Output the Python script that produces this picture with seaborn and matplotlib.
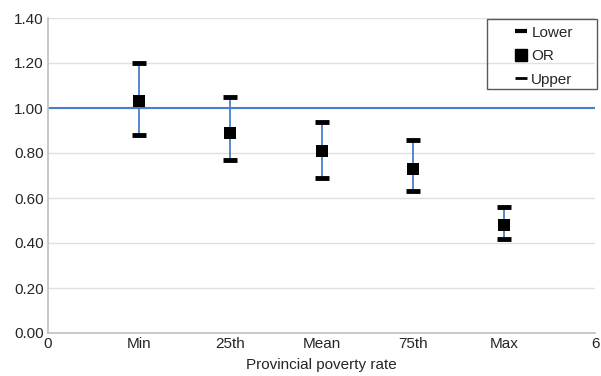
import numpy as np
import pandas as pd
import seaborn as sns
import matplotlib.pyplot as plt
from matplotlib.lines import Line2D
from matplotlib.patches import Rectangle

# значения
categories = ["Min", "25th", "Mean", "75th", "Max"]
positions = [1, 2, 3, 4, 5]
odds_ratio = [1.03, 0.89, 0.81, 0.73, 0.48]
lower = [0.88, 0.77, 0.69, 0.63, 0.42]
upper = [1.20, 1.05, 0.94, 0.86, 0.56]

df = pd.DataFrame({"pos": positions, "cat": categories, "OR": odds_ratio,
                   "Lower": lower, "Upper": upper})

sns.set_style("white")
plt.rcParams["font.family"] = ["Liberation Sans", "DejaVu Sans"]
fs = 11

fig = plt.figure(figsize=(6.01, 3.76), dpi=100)
ax = fig.add_axes([48 / 601, 1 - 333 / 376, (595 - 48) / 601, (333 - 18) / 376])

blue = "#4a7ec9"
ax.axhline(1.0, color=blue, lw=1.5, zorder=2)
ax.vlines(df["pos"], df["Lower"], df["Upper"], color=blue, lw=1.3, zorder=3)

cap = dict(marker="_", markersize=9.5, markeredgewidth=3.5, color="black",
           markeredgecolor="black", linestyle="", zorder=4)
sns.lineplot(data=df, x="pos", y="Lower", ax=ax, **cap)
sns.lineplot(data=df, x="pos", y="Upper", ax=ax, **cap)
sns.lineplot(data=df, x="pos", y="OR", ax=ax, marker="s", markersize=8.5,
             markeredgewidth=0, color="black", linestyle="", zorder=5)

ax.set_xlim(0, 6)
ax.set_ylim(0, 1.4)
ax.set_yticks(np.arange(0, 1.41, 0.2))
ax.set_yticklabels([f"{v:.2f}" for v in np.arange(0, 1.41, 0.2)], fontsize=fs)
ax.set_xticks(range(7))
ax.set_xticklabels(["0"] + categories + ["6"], fontsize=fs)
ax.tick_params(length=0, pad=3)
ax.yaxis.grid(True, color="#e0e0e0", lw=1)
ax.set_axisbelow(True)
for s in ["top", "right"]:
    ax.spines[s].set_visible(False)
for s in ["left", "bottom"]:
    ax.spines[s].set_color("#bfbfbf")
    ax.spines[s].set_linewidth(1.2)
ax.set_xlabel("Provincial poverty rate", fontsize=fs, labelpad=5)
ax.set_ylabel("")

# легенда в рамке как в экселе
handles = [
    Line2D([], [], marker="_", color="black", linestyle="", markersize=9, markeredgewidth=3),
    Line2D([], [], marker="s", color="black", linestyle="", markersize=8),
    Line2D([], [], marker="_", color="black", linestyle="", markersize=9, markeredgewidth=2),
]
leg = ax.legend(handles, ["Lower", "OR", "Upper"], loc="upper left",
                bbox_to_anchor=(487 / 601, 1 - 21 / 376), bbox_transform=fig.transFigure,
                frameon=False, fontsize=fs, handlelength=3.9,
                handletextpad=-1.3, borderpad=0.3, labelspacing=0.62,
                borderaxespad=0)
fig.patches.append(Rectangle((487 / 601, 1 - 89 / 376), 110 / 601, 70 / 376,
                             transform=fig.transFigure, fill=False,
                             edgecolor="#595959", lw=1, zorder=10))

fig.savefig("out.png", dpi=100)
